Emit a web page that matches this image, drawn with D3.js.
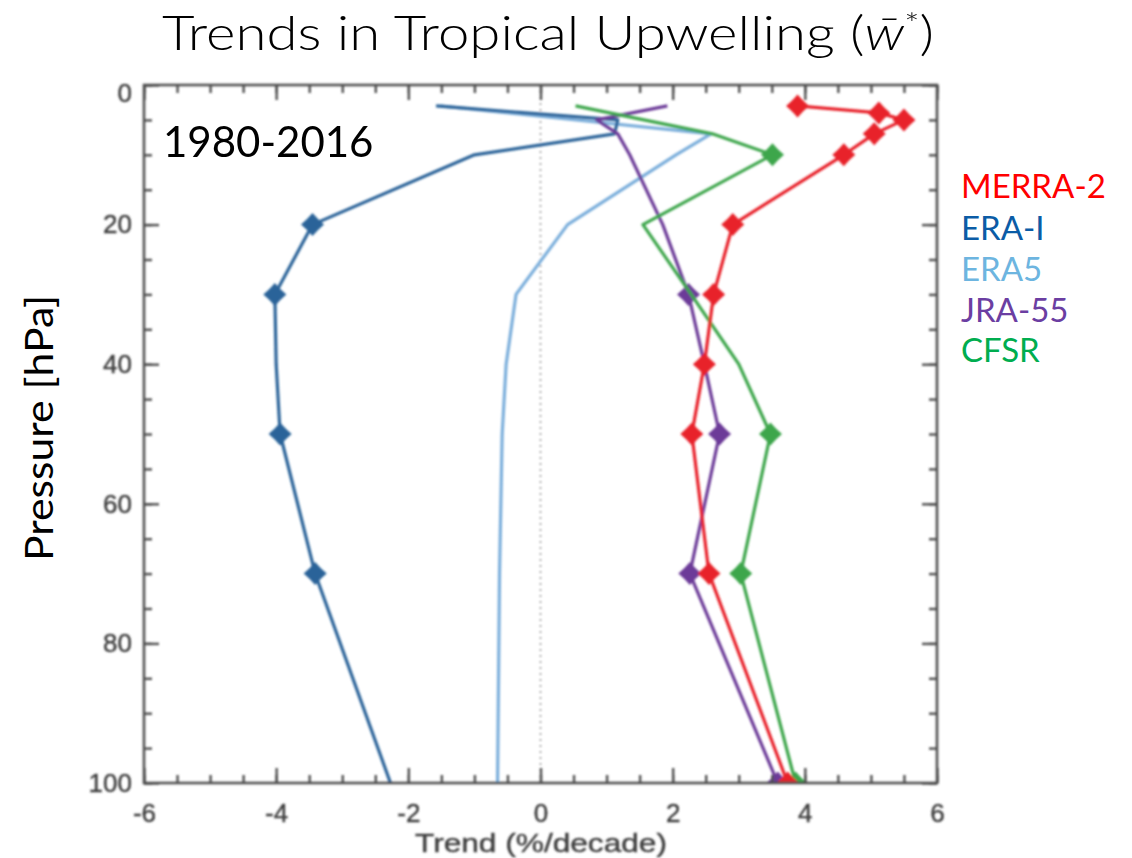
<!DOCTYPE html>
<html>
<head>
<meta charset="utf-8">
<script src="https://cdn.jsdelivr.net/npm/d3@7"></script>
<style>
  html, body { margin: 0; padding: 0; background: #fff; }
  svg { display: block; }
</style>
</head>
<body>
<svg id="chart" width="1132" height="858"></svg>
<script>
// ---------------- DATA ----------------
const seriesNames = ["MERRA-2", "ERA-I", "ERA5", "JRA-55", "CFSR"];

const merra2Levels = [3, 4, 5, 7, 10, 20, 30, 40, 50, 70, 100];
const merra2Trend  = [3.89, 5.12, 5.50, 5.05, 4.59, 2.91, 2.62, 2.48, 2.29, 2.55, 3.74];
const merra2Sig    = [1, 1, 1, 1, 1, 1, 1, 1, 1, 1, 1];

const eraILevels = [3, 5, 7, 10, 20, 30, 40, 50, 70, 100];
const eraITrend  = [-1.58, 1.17, 1.12, -1.0, -3.45, -4.02, -4.0, -3.94, -3.41, -2.27];
const eraISig    = [0, 0, 0, 0, 1, 1, 0, 1, 1, 0];

const era5Levels = [3, 7, 10, 20, 30, 40, 50, 70, 100];
const era5Trend  = [-1.52, 2.58, 2.05, 0.41, -0.37, -0.52, -0.58, -0.62, -0.65];
const era5Sig    = [0, 0, 0, 0, 0, 0, 0, 0, 0];

const jra55Levels = [3, 5, 7, 10, 20, 30, 40, 50, 70, 100];
const jra55Trend  = [1.92, 0.85, 1.17, 1.35, 1.85, 2.24, 2.48, 2.71, 2.26, 3.59];
const jra55Sig    = [0, 0, 0, 0, 0, 1, 0, 1, 1, 1];

const cfsrLevels = [3, 7, 10, 20, 30, 40, 50, 70, 100];
const cfsrTrend  = [0.53, 2.6, 3.51, 1.55, 2.28, 3.0, 3.48, 3.03, 3.86];
const cfsrSig    = [0, 0, 1, 0, 0, 0, 1, 1, 1];

const xTickValues = [-6, -4, -2, 0, 2, 4, 6];
const yTickValues = [0, 20, 40, 60, 80, 100];

// ---------------- STYLE ----------------
const lineColors   = {"MERRA-2": "#e8232b", "ERA-I": "#2b6399", "ERA5": "#7aaedb", "JRA-55": "#6c3b98", "CFSR": "#3da64b"};
const legendColors = {"MERRA-2": "#ff0000", "ERA-I": "#0b5ca6", "ERA5": "#6db5e0", "JRA-55": "#6b3ea2", "CFSR": "#00ad4f"};

const series = [
  {name: "ERA5",    lev: era5Levels,   val: era5Trend,   sig: era5Sig},
  {name: "ERA-I",   lev: eraILevels,   val: eraITrend,   sig: eraISig},
  {name: "JRA-55",  lev: jra55Levels,  val: jra55Trend,  sig: jra55Sig},
  {name: "CFSR",    lev: cfsrLevels,   val: cfsrTrend,   sig: cfsrSig},
  {name: "MERRA-2", lev: merra2Levels, val: merra2Trend, sig: merra2Sig}
];

const svg = d3.select("#chart");
const L = 144, R = 937, T = 85, B = 783;
const x = d3.scaleLinear().domain([-6, 6]).range([L, R]);
const y = d3.scaleLinear().domain([0, 100]).range([T, B]);

const defs = svg.append("defs");
defs.append("filter").attr("id", "soft")
  .attr("x", "-5%").attr("y", "-5%").attr("width", "110%").attr("height", "110%")
  .append("feGaussianBlur").attr("stdDeviation", 0.8);
defs.append("clipPath").attr("id", "plotclip")
  .append("rect").attr("x", L).attr("y", T - 30).attr("width", R - L).attr("height", B - T + 30);

const plot = svg.append("g").attr("filter", "url(#soft)");

// zero line
plot.append("line")
  .attr("x1", x(0)).attr("x2", x(0)).attr("y1", T).attr("y2", B)
  .attr("stroke", "#9a9a9a").attr("stroke-width", 1.6).attr("stroke-dasharray", "2,4");

// series lines
const lineGen = d3.line().x(d => x(d.v)).y(d => y(d.p));
const markerPath = "M0,-11.5 L5.5,-5.5 L11.5,0 L5.5,5.5 L0,11.5 L-5.5,5.5 L-11.5,0 L-5.5,-5.5 Z";

const gSeries = plot.append("g").attr("clip-path", "url(#plotclip)");
series.forEach(s => {
  const pts = s.lev.map((p, i) => ({p: p, v: s.val[i], sig: s.sig[i]}));
  gSeries.append("path").datum(pts)
    .attr("d", lineGen)
    .attr("fill", "none")
    .attr("stroke", lineColors[s.name])
    .attr("stroke-width", 3.2)
    .attr("stroke-linejoin", "round");
  gSeries.selectAll(null).data(pts.filter(d => d.sig)).enter()
    .append("path")
    .attr("d", markerPath)
    .attr("transform", d => `translate(${x(d.v)},${y(d.p)})`)
    .attr("fill", lineColors[s.name]);
});

// axes
const axisColor = "#505050";
const xMinor = d3.range(-6, 6.01, 0.5);
const yMinor = d3.range(0, 100.1, 5);

function styleAxis(g) {
  g.select(".domain").remove();
  g.selectAll(".tick line").attr("stroke", axisColor).attr("stroke-width", 2.4);
  g.selectAll("text").attr("fill", "#3c3c3c")
    .attr("stroke", "#3c3c3c").attr("stroke-width", 0.4)
    .style("font-family", "'Liberation Sans', Arial, sans-serif").style("font-size", "26px");
}

// minor ticks
plot.append("g").attr("transform", `translate(0,${B})`)
  .call(d3.axisBottom(x).tickValues(xMinor).tickSize(-8).tickFormat(""))
  .call(styleAxis);
plot.append("g").attr("transform", `translate(0,${T})`)
  .call(d3.axisTop(x).tickValues(xMinor).tickSize(-8).tickFormat(""))
  .call(styleAxis);
plot.append("g").attr("transform", `translate(${L},0)`)
  .call(d3.axisLeft(y).tickValues(yMinor).tickSize(-8).tickFormat(""))
  .call(styleAxis);
plot.append("g").attr("transform", `translate(${R},0)`)
  .call(d3.axisRight(y).tickValues(yMinor).tickSize(-8).tickFormat(""))
  .call(styleAxis);

// major ticks
plot.append("g").attr("transform", `translate(0,${B})`)
  .call(d3.axisBottom(x).tickValues(xTickValues).tickSize(-15).tickPadding(21).tickFormat(d => String(d)))
  .call(styleAxis);
plot.append("g").attr("transform", `translate(0,${T})`)
  .call(d3.axisTop(x).tickValues(xTickValues).tickSize(-15).tickFormat(""))
  .call(styleAxis);
const yAxisG = plot.append("g").attr("transform", `translate(${L},0)`)
  .call(d3.axisLeft(y).tickValues(yTickValues).tickSize(-15).tickPadding(12).tickFormat(d => String(d)))
  .call(styleAxis);
yAxisG.selectAll(".tick text").filter(d => d === 0).attr("dy", "0.62em");
plot.append("g").attr("transform", `translate(${R},0)`)
  .call(d3.axisRight(y).tickValues(yTickValues).tickSize(-15).tickFormat(""))
  .call(styleAxis);

// frame
plot.append("rect")
  .attr("x", L).attr("y", T).attr("width", R - L).attr("height", B - T)
  .attr("fill", "none").attr("stroke", axisColor).attr("stroke-width", 2.6);

// x axis title
plot.append("text")
  .attr("x", 541).attr("y", 852)
  .attr("text-anchor", "middle")
  .attr("textLength", 252).attr("lengthAdjust", "spacingAndGlyphs")
  .attr("fill", "#3c3c3c").attr("stroke", "#3c3c3c").attr("stroke-width", 0.4)
  .style("font-family", "'Liberation Sans', Arial, sans-serif").style("font-size", "26px")
  .text("Trend (%/decade)");

// ---------------- TEXT OVERLAYS ----------------
const sans = "Lato, 'Open Sans', sans-serif";

const title = svg.append("text")
  .attr("x", 162).attr("y", 50)
  .attr("textLength", 772).attr("lengthAdjust", "spacingAndGlyphs")
  .attr("fill", "#000")
  .style("font-family", sans).style("font-size", "47px").style("font-weight", 300);
title.append("tspan").text("Trends in Tropical Upwelling (");
title.append("tspan").style("font-style", "italic").text("w\u0304");
title.append("tspan").attr("dy", -16).style("font-size", "30px").text("*");
title.append("tspan").attr("dy", 16).text(")");

svg.append("text")
  .attr("x", 163).attr("y", 157)
  .attr("fill", "#000")
  .style("font-family", sans).style("font-size", "42px").style("font-weight", 400)
  .text("1980-2016");

svg.append("text")
  .attr("transform", "translate(53,428) rotate(-90)")
  .attr("text-anchor", "middle")
  .attr("textLength", 266).attr("lengthAdjust", "spacingAndGlyphs")
  .attr("fill", "#000")
  .style("font-family", sans).style("font-size", "38px").style("font-weight", 400)
  .text("Pressure [hPa]");

// legend
const legendY = [198, 240, 281, 322, 362];
svg.append("g").selectAll("text").data(seriesNames).enter()
  .append("text")
  .attr("x", 961)
  .attr("y", (d, i) => legendY[i])
  .attr("fill", d => legendColors[d])
  .style("font-family", sans).style("font-size", "33px").style("font-weight", 400)
  .text(d => d);
</script>
</body>
</html>
